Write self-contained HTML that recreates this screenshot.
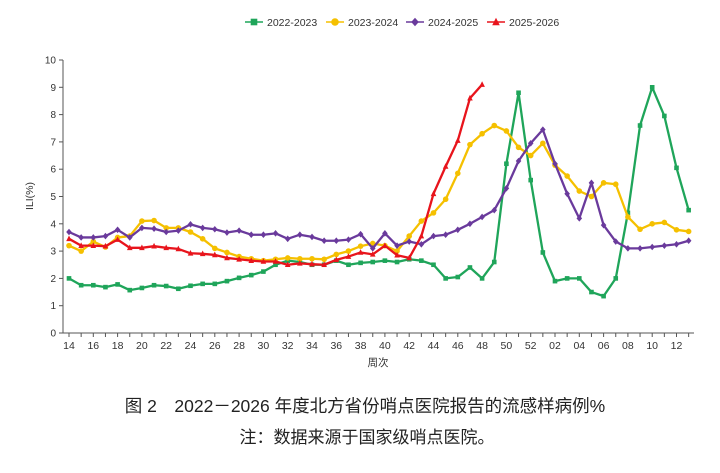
<!DOCTYPE html>
<html><head><meta charset="utf-8"><style>
body{margin:0;background:#fff;width:720px;height:468px;overflow:hidden;font-family:"Liberation Sans","Noto Sans CJK SC",sans-serif}
</style></head><body>
<svg id="chart" width="720" height="468" xmlns="http://www.w3.org/2000/svg"></svg>
<script>
const weeks=["14","15","16","17","18","19","20","21","22","23","24","25","26","27","28","29","30","31","32","33","34","35","36","37","38","39","40","41","42","43","44","45","46","47","48","49","50","51","52","01","02","03","04","05","06","07","08","09","10","11","12","13"];
const tickLabels=["14","16","18","20","22","24","26","28","30","32","34","36","38","40","42","44","46","48","50","52","02","04","06","08","10","12"];
const yTicks=[0,1,2,3,4,5,6,7,8,9,10];
const s2022=[2.0,1.75,1.75,1.68,1.78,1.57,1.65,1.75,1.72,1.62,1.73,1.8,1.8,1.9,2.02,2.12,2.25,2.5,2.65,2.6,2.5,2.5,2.65,2.5,2.57,2.6,2.65,2.6,2.7,2.65,2.5,2.0,2.05,2.4,2.0,2.6,6.2,8.8,5.6,2.95,1.9,2.0,2.0,1.5,1.35,2.0,4.4,7.6,9.0,7.95,6.05,4.5];
const s2023=[3.2,3.0,3.35,3.15,3.5,3.55,4.1,4.12,3.85,3.85,3.7,3.45,3.1,2.95,2.8,2.72,2.65,2.7,2.75,2.72,2.72,2.7,2.88,3.0,3.18,3.28,3.2,3.0,3.55,4.1,4.4,4.9,5.85,6.9,7.3,7.6,7.4,6.8,6.5,6.95,6.15,5.75,5.2,5.0,5.5,5.45,4.25,3.8,4.0,4.05,3.78,3.72];
const s2024=[3.7,3.5,3.5,3.55,3.78,3.5,3.85,3.82,3.7,3.75,3.98,3.85,3.8,3.68,3.75,3.6,3.6,3.65,3.45,3.6,3.52,3.38,3.38,3.42,3.62,3.1,3.65,3.2,3.35,3.25,3.55,3.6,3.78,4.0,4.25,4.5,5.3,6.3,6.95,7.45,6.2,5.1,4.2,5.5,3.95,3.35,3.1,3.1,3.15,3.2,3.25,3.38];
const s2025=[3.45,3.2,3.2,3.18,3.42,3.12,3.12,3.18,3.12,3.08,2.92,2.9,2.86,2.75,2.7,2.65,2.62,2.62,2.5,2.55,2.52,2.5,2.68,2.8,2.95,2.88,3.2,2.85,2.75,3.55,5.1,6.1,7.05,8.6,9.1];
const seriesNames=["2022-2023","2023-2024","2024-2025","2025-2026"];
const colors=["#1fa55a","#f5c000","#6a3a9c","#e8141c"];
const shapes=["square","circle","diamond","triangle"];
const allSeries=[s2022,s2023,s2024,s2025];

const svg=document.getElementById('chart');
const NS="http://www.w3.org/2000/svg";
const X0=69,DX=12.15,Y0=333,YH=27.3,AXL=63;
const xs=i=>X0+i*DX, ys=v=>Y0-v*YH;
function mk(t,a,p){const e=document.createElementNS(NS,t);for(const k in a)e.setAttribute(k,a[k]);(p||svg).appendChild(e);return e;}
function marker(shape,x,y,c,g,r){
  if(shape==="square")return mk('rect',{x:x-r,y:y-r,width:2*r,height:2*r,fill:c},g);
  if(shape==="circle")return mk('circle',{cx:x,cy:y,r:r+0.5,fill:c},g);
  if(shape==="diamond")return mk('polygon',{points:`${x},${y-r-1} ${x+r+0.5},${y} ${x},${y+r+1} ${x-r-0.5},${y}`,fill:c},g);
  return mk('polygon',{points:`${x},${y-r-1} ${x+r+0.5},${y+r} ${x-r-0.5},${y+r}`,fill:c},g);
}
const ax=mk('g',{});
mk('line',{x1:AXL,y1:ys(10),x2:AXL,y2:Y0,stroke:'#555','stroke-width':1},ax);
yTicks.forEach(v=>{mk('line',{x1:AXL-4,y1:ys(v),x2:AXL,y2:ys(v),stroke:'#555'},ax);
 const t=mk('text',{x:AXL-7,y:ys(v)+3.5,'font-size':10,'text-anchor':'end',fill:'#333'},ax);t.textContent=v;});
const xa=mk('g',{});
mk('line',{x1:AXL,y1:Y0,x2:694,y2:Y0,stroke:'#555'},xa);
weeks.forEach((w,i)=>{mk('line',{x1:xs(i),y1:Y0,x2:xs(i),y2:Y0+4,stroke:'#555'},xa);
 if(tickLabels.includes(w)&&i%2===0){const t=mk('text',{x:xs(i),y:Y0+16,'font-size':10.5,'text-anchor':'middle',fill:'#333'},xa);t.textContent=w;}});
const xt=mk('text',{x:378,y:366,'font-size':10.5,'text-anchor':'middle',fill:'#333'});xt.textContent='周次';

const yt=mk('text',{x:0,y:0,'font-size':10.5,'text-anchor':'middle',fill:'#333',transform:'translate(33,196) rotate(-90)'});yt.textContent='ILI(%)';

allSeries.forEach((data,k)=>{
  const g=mk('g',{});
  
  
  mk('polyline',{points:data.map((v,i)=>xs(i)+','+ys(v)).join(' '),fill:'none',stroke:colors[k],'stroke-width':2.3,'stroke-linejoin':'round'},g);
  data.forEach((v,i)=>{const m=marker(shapes[k],xs(i),ys(v),colors[k],g,2.3);
    
    });
});
const lx=[245,326,406,487];
seriesNames.forEach((n,k)=>{
  const g=mk('g',{});
  
  
  mk('line',{x1:lx[k],y1:22,x2:lx[k]+18,y2:22,stroke:colors[k],'stroke-width':1.5},g);
  marker(shapes[k],lx[k]+9,22,colors[k],g,3.3);
  const t=mk('text',{x:lx[k]+22,y:26,'font-size':10.5,fill:'#333'},g);t.textContent=n;
});
const c1=mk('text',{x:365,y:412,'font-size':17.5,'text-anchor':'middle',fill:'#222'});c1.textContent='图 2　2022－2026 年度北方省份哨点医院报告的流感样病例%';

const c2=mk('text',{x:367,y:443,'font-size':17,'text-anchor':'middle',fill:'#222'});c2.textContent='注：数据来源于国家级哨点医院。';

</script>
</body></html>
